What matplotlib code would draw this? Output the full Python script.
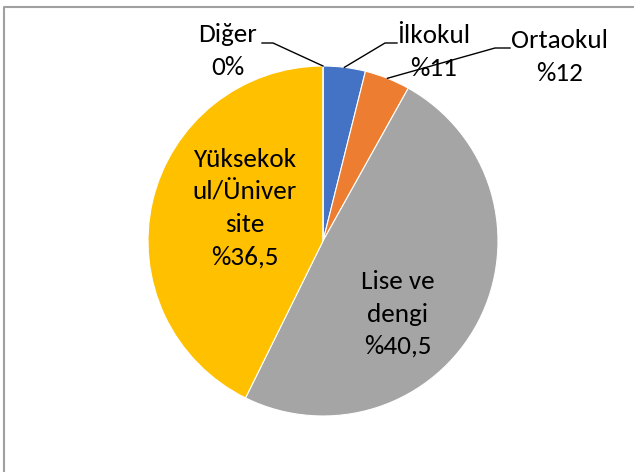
import numpy as np
import matplotlib.pyplot as plt
from matplotlib.font_manager import fontManager

# slice sizes as drawn, labels as printed on the chart
categories = ["İlkokul", "Ortaokul", "Lise ve dengi", "Yüksekokul/Üniversite", "Diğer"]
values = [3.9, 4.2, 49.2, 42.7, 0.0]
labels = ["İlkokul\n%11", "Ortaokul\n%12", "Lise ve\ndengi\n%40,5",
          "Yüksekok\nul/Üniver\nsite\n%36,5", "Diğer\n0%"]
colors = ["#4472C4", "#ED7D31", "#A5A5A5", "#FFC000", "#5B9BD5"]

names = {f.name for f in fontManager.ttflist}
fam = [f for f in ["Carlito", "Lato", "DejaVu Sans"] if f in names]
plt.rcParams['font.family'] = fam

W, H = 634, 472
fig = plt.figure(figsize=(6.34, 4.72), dpi=100)
ax = fig.add_axes([0, 0, 1, 1])

cx, cy, r = 323, H - 241, 175
wedges, _ = ax.pie(values, colors=colors, startangle=90, counterclock=False,
                   center=(cx, cy), radius=r,
                   wedgeprops=dict(edgecolor='white', linewidth=0.8))
# pie() resets the limits, so set them afterwards
ax.set_xlim(0, W)
ax.set_ylim(0, H)
ax.set_aspect('equal')
ax.axis('off')

# chart border (only top and left visible)
ax.plot([3.5, 3.5, W + 5], [-5, H - 6.5, H - 6.5], color='#A0A0A0', lw=1.5,
        clip_on=False)

fs = 19.5
ls = 1.5
# labels inside the slices
ax.text(398, H - 314, labels[2], ha='center', va='center', fontsize=fs,
        linespacing=ls)
ax.text(245, H - 208, labels[3], ha='center', va='center', fontsize=fs,
        linespacing=ls)

# outside labels with leader lines
outside = [(0, (434, H - 52), (397, 385, H - 43)),
           (1, (560, H - 57), (510, 495, H - 48)),
           (4, (228, H - 51), (262, 273, H - 43))]
for i, (tx, ty), (x0, x1, ly) in outside:
    w = wedges[i]
    ang = np.deg2rad((w.theta1 + w.theta2) / 2)
    ex, ey = cx + r * np.cos(ang), cy + r * np.sin(ang)
    ax.text(tx, ty, labels[i], ha='center', va='center', fontsize=fs,
            linespacing=ls)
    ax.plot([x0, x1, ex], [ly, ly, ey], color='black', lw=1)

fig.savefig('out.png', dpi=100)
